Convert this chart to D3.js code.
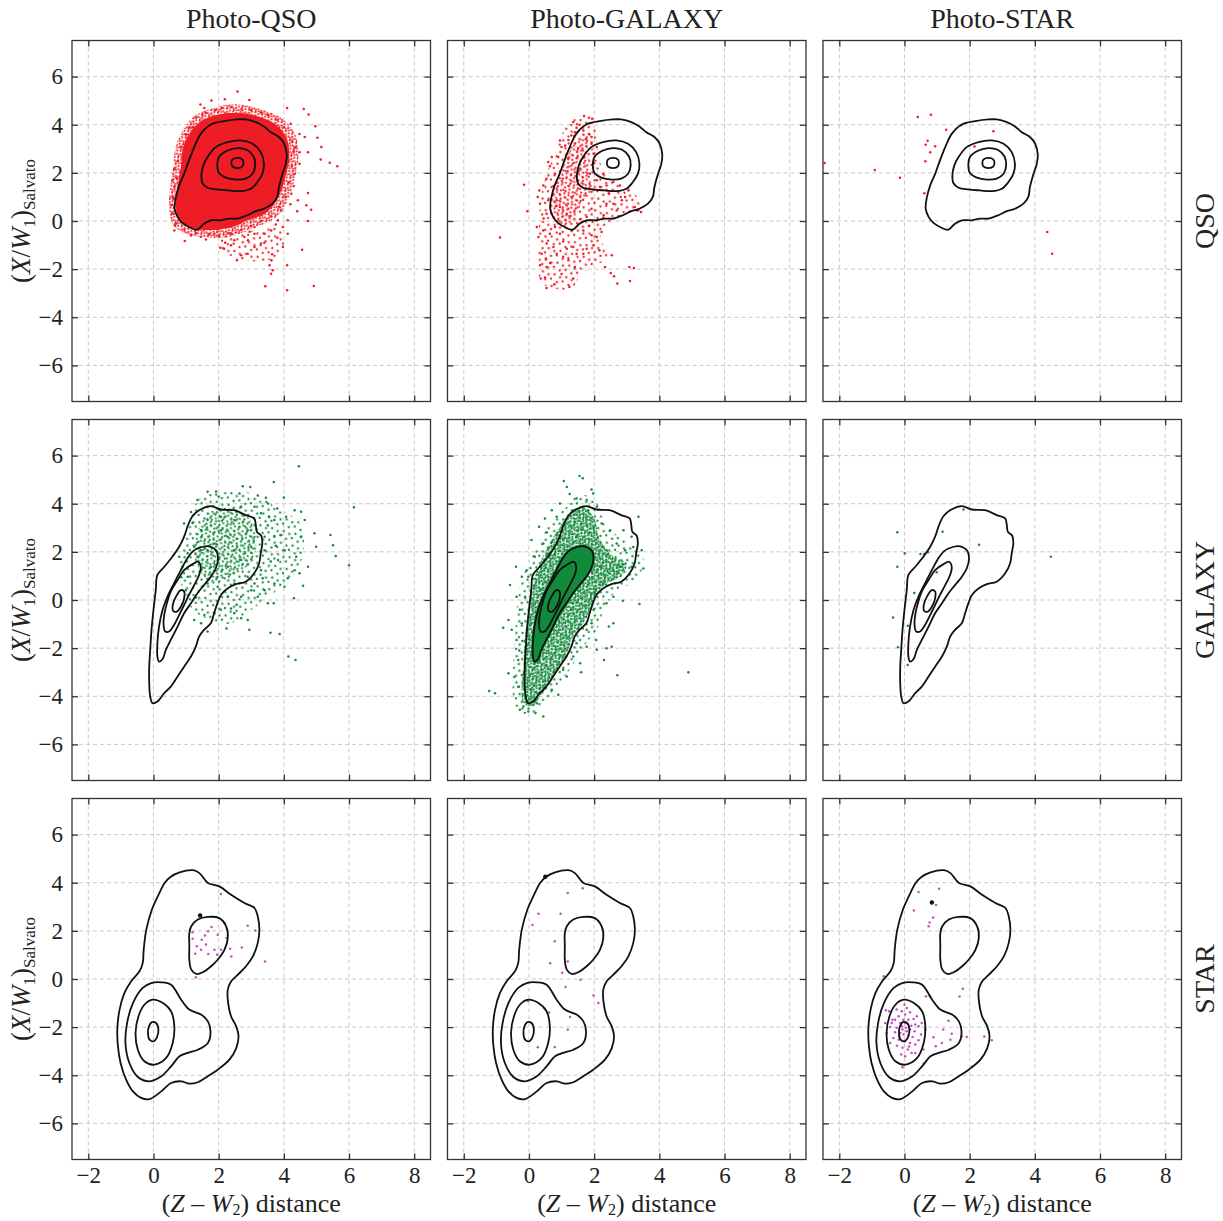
<!DOCTYPE html>
<html><head><meta charset="utf-8">
<script src="https://cdn.jsdelivr.net/npm/d3@7"></script>
<style>
body{margin:0;background:#fff}
svg{display:block}
text{font-family:"Liberation Serif","Times New Roman",serif;fill:#222}
</style>
</head><body><div id="chart"></div>
<script>
// ---------- labels & ticks ----------
const columnTitles = ["Photo-QSO", "Photo-GALAXY", "Photo-STAR"];
const rowTitles = ["QSO", "GALAXY", "STAR"];
const xTicks = [-2, 0, 2, 4, 6, 8];
const yTicks = [-6, -4, -2, 0, 2, 4, 6];
const xDomain = [-2.5, 8.5];
const yDomain = [-7.5, 7.5];

// ---------- density contours (same for every panel of a row) ----------
const qsoContour1 = [[1.76,4.01],[2.17,4.15],[2.58,4.22],[2.83,4.22],[3.14,4.11],[3.39,3.93],[3.60,3.69],[3.85,3.49],[4.01,3.21],[4.09,2.77],[4.06,2.38],[3.96,1.96],[3.85,1.41],[3.80,1.00],[3.65,0.72],[3.39,0.51],[3.14,0.41],[2.88,0.24],[2.58,0.10],[2.32,0.10],[2.07,0.03],[1.76,0.03],[1.55,-0.11],[1.35,-0.36],[1.15,-0.29],[0.89,-0.08],[0.74,0.17],[0.65,0.51],[0.69,1.00],[0.79,1.48],[0.94,1.96],[1.09,2.52],[1.25,3.07],[1.45,3.62]];
const qsoContour2 = [[1.66,2.66],[1.91,3.07],[2.27,3.28],[2.68,3.35],[3.04,3.21],[3.29,2.86],[3.39,2.38],[3.34,1.96],[3.19,1.62],[2.99,1.34],[2.68,1.24],[2.32,1.27],[1.96,1.31],[1.66,1.38],[1.50,1.58],[1.47,1.89],[1.53,2.31]];
const qsoContour3 = [[2.01,2.66],[2.27,2.93],[2.58,3.03],[2.86,2.96],[3.07,2.68],[3.12,2.31],[3.04,1.96],[2.83,1.76],[2.53,1.72],[2.22,1.80],[2.01,1.99],[1.96,2.31]];
const qsoContour4 = [[2.39,2.41],[2.42,2.55],[2.58,2.62],[2.73,2.55],[2.76,2.41],[2.73,2.27],[2.58,2.20],[2.42,2.27]];

const galContour1 = [[1.20,3.49],[1.40,3.73],[1.76,3.90],[2.07,3.76],[2.47,3.73],[2.83,3.53],[3.09,3.39],[3.14,3.11],[3.17,2.84],[3.31,2.66],[3.34,2.35],[3.29,1.94],[3.24,1.52],[3.09,1.11],[2.83,0.76],[2.53,0.66],[2.27,0.48],[2.07,0.21],[1.96,-0.14],[1.86,-0.55],[1.76,-0.97],[1.55,-1.24],[1.40,-1.52],[1.30,-1.94],[1.15,-2.35],[0.94,-2.77],[0.74,-3.18],[0.53,-3.60],[0.33,-3.87],[0.12,-4.22],[-0.03,-4.29],[-0.10,-4.01],[-0.13,-3.46],[-0.13,-2.77],[-0.10,-2.07],[-0.06,-1.24],[0.00,-0.41],[0.07,0.41],[0.12,1.04],[0.33,1.38],[0.58,1.80],[0.79,2.21],[0.94,2.63],[1.06,3.11]];
const galContour2 = [[1.35,2.14],[1.66,2.24],[1.91,2.07],[1.98,1.73],[1.91,1.31],[1.76,0.97],[1.55,0.62],[1.35,0.28],[1.15,-0.14],[0.94,-0.55],[0.74,-1.11],[0.53,-1.66],[0.38,-2.07],[0.28,-2.45],[0.17,-2.56],[0.12,-2.35],[0.12,-1.80],[0.17,-1.11],[0.28,-0.41],[0.43,0.14],[0.63,0.69],[0.84,1.24],[1.04,1.73],[1.20,2.01]];
const galContour3 = [[1.20,1.49],[1.37,1.59],[1.45,1.38],[1.40,1.04],[1.25,0.62],[1.09,0.21],[0.94,-0.21],[0.79,-0.62],[0.63,-1.04],[0.48,-1.31],[0.36,-1.31],[0.31,-1.04],[0.33,-0.62],[0.41,-0.14],[0.53,0.35],[0.74,0.83],[0.94,1.24]];
const galContour4 = [[0.84,0.41],[0.94,0.35],[0.94,0.07],[0.84,-0.28],[0.72,-0.48],[0.61,-0.46],[0.59,-0.21],[0.69,0.14]];

const starContourOuter = [[0.52,4.24],[0.80,4.43],[1.21,4.52],[1.41,4.40],[1.67,3.99],[2.02,3.85],[2.38,3.50],[2.79,3.16],[3.10,2.95],[3.20,2.60],[3.25,2.05],[3.20,1.50],[3.05,0.94],[2.84,0.53],[2.59,0.18],[2.38,-0.10],[2.28,-0.44],[2.28,-0.86],[2.38,-1.55],[2.54,-1.97],[2.61,-2.38],[2.54,-2.87],[2.33,-3.35],[1.97,-3.77],[1.67,-4.04],[1.36,-4.29],[1.10,-4.35],[0.85,-4.25],[0.54,-4.32],[0.24,-4.67],[-0.12,-4.99],[-0.38,-4.94],[-0.63,-4.67],[-0.84,-4.18],[-1.01,-3.49],[-1.09,-2.80],[-1.11,-2.11],[-1.04,-1.27],[-0.89,-0.58],[-0.69,-0.10],[-0.43,0.32],[-0.33,0.66],[-0.30,1.22],[-0.22,2.05],[-0.05,2.88],[0.18,3.57],[0.34,3.99]];
const starContourIsland = [[1.16,2.19],[1.36,2.47],[1.67,2.58],[2.02,2.53],[2.23,2.19],[2.28,1.70],[2.18,1.22],[1.97,0.80],[1.77,0.53],[1.51,0.28],[1.31,0.21],[1.16,0.39],[1.10,0.80],[1.10,1.36],[1.10,1.91]];
const starContour2 = [[0.24,-0.14],[0.54,-0.24],[0.85,-0.86],[1.10,-1.27],[1.46,-1.48],[1.67,-1.76],[1.75,-2.17],[1.67,-2.66],[1.36,-2.94],[1.05,-3.07],[0.80,-3.21],[0.54,-3.63],[0.24,-4.04],[-0.12,-4.25],[-0.48,-4.07],[-0.74,-3.49],[-0.86,-2.66],[-0.81,-1.83],[-0.63,-1.00],[-0.33,-0.37],[-0.07,-0.17]];
const starContour3 = [[-0.02,-0.86],[0.29,-1.00],[0.54,-1.34],[0.64,-1.97],[0.59,-2.66],[0.39,-3.28],[0.03,-3.56],[-0.28,-3.42],[-0.48,-2.94],[-0.55,-2.24],[-0.46,-1.55],[-0.28,-1.07]];
const starContour4 = [[-0.14,-1.97],[-0.05,-1.79],[0.08,-1.83],[0.15,-2.08],[0.11,-2.41],[0.01,-2.59],[-0.12,-2.52],[-0.17,-2.24]];

// ---------- outlines of the crowded parts of the scatter clouds ----------
const solidQsoPhotoQso = [[0.99,3.35],[1.35,4.04],[1.87,4.38],[2.48,4.50],[3.10,4.38],[3.71,4.04],[4.07,3.49],[4.17,2.66],[4.07,1.96],[3.92,1.27],[3.71,0.72],[3.41,0.30],[2.89,0.03],[2.48,-0.22],[1.97,-0.36],[1.46,-0.36],[1.05,-0.22],[0.79,0.03],[0.69,0.58],[0.72,1.27],[0.84,2.24],[0.89,2.93]];
const haloQsoPhotoQso = [[0.80,3.50],[1.25,4.35],[1.85,4.70],[2.50,4.85],[3.15,4.70],[3.85,4.35],[4.35,3.60],[4.45,2.70],[4.35,1.90],[4.20,1.10],[3.98,0.50],[3.60,0.00],[3.00,-0.30],[2.50,-0.60],[1.95,-0.70],[1.40,-0.65],[0.95,-0.50],[0.60,-0.15],[0.48,0.50],[0.50,1.30],[0.60,2.20],[0.66,2.95]];
const tailQsoPhotoQso = [[2.00,-0.60],[3.00,-0.40],[3.90,-0.30],[4.00,-1.00],[3.60,-1.60],[2.70,-1.60],[2.10,-1.20]];
const coreQsoPhotoGal = [[1.46,3.35],[1.77,3.62],[1.82,2.66],[1.87,1.69],[2.08,1.27],[1.77,1.07],[1.57,0.58],[1.36,0.03],[1.05,-0.25],[0.75,0.03],[0.64,0.58],[0.70,1.13],[0.85,1.69],[1.05,2.24],[1.26,2.93]];
const haloQsoPhotoGal = [[1.30,4.20],[2.00,4.00],[2.10,3.00],[2.40,1.80],[3.20,1.20],[3.50,0.40],[2.80,0.20],[2.20,-0.60],[2.40,-1.50],[1.60,-2.20],[1.30,-2.80],[0.40,-2.60],[0.30,-1.50],[0.30,-0.50],[0.35,0.80],[0.50,1.80],[0.80,2.80]];
const coreGalPhotoQso = [[1.30,2.60],[1.60,3.50],[2.00,3.80],[2.50,3.80],[2.90,3.45],[3.10,2.90],[3.15,2.20],[3.00,1.60],[2.60,1.10],[2.10,0.80],[1.70,0.80],[1.40,1.30],[1.25,1.90]];
const haloGalPhotoQso = [[1.00,2.60],[1.40,4.20],[2.20,4.50],[3.10,4.40],[3.80,3.80],[4.50,3.20],[4.60,2.00],[4.30,1.00],[3.60,0.20],[2.80,-0.60],[2.30,-1.00],[1.70,-0.80],[1.20,-0.40],[0.90,0.40],[0.80,1.50]];
const haloGalPhotoGal = [[1.10,3.80],[1.55,4.40],[2.10,4.00],[2.40,3.00],[2.95,2.50],[3.50,1.80],[3.30,0.80],[2.70,0.40],[2.30,-0.40],[2.10,-1.20],[1.70,-1.90],[1.30,-2.80],[0.80,-3.70],[0.40,-4.50],[-0.10,-4.75],[-0.45,-4.30],[-0.50,-3.20],[-0.45,-2.00],[-0.40,-0.80],[-0.30,0.40],[0.00,1.60],[0.40,2.60],[0.75,3.40]];
const coreGalPhotoGal = [[1.16,3.46],[1.57,3.87],[1.98,3.46],[2.18,2.49],[2.59,1.80],[3.00,1.52],[2.79,0.97],[2.38,0.69],[2.08,0.28],[1.87,-0.41],[1.67,-0.97],[1.36,-1.52],[1.16,-2.21],[0.95,-2.77],[0.64,-3.46],[0.34,-4.01],[0.08,-4.43],[-0.17,-4.29],[-0.23,-3.60],[-0.17,-2.63],[-0.12,-1.52],[-0.02,-0.41],[0.08,0.41],[0.29,1.38],[0.64,2.35],[0.95,3.04]];
const solidGalPhotoGal = [[1.35,2.20],[1.68,2.30],[1.95,2.10],[2.02,1.73],[1.95,1.31],[1.79,0.95],[1.58,0.58],[1.38,0.24],[1.18,-0.18],[0.97,-0.60],[0.77,-1.15],[0.56,-1.70],[0.40,-2.12],[0.29,-2.55],[0.15,-2.62],[0.08,-2.35],[0.08,-1.80],[0.13,-1.11],[0.24,-0.41],[0.39,0.14],[0.59,0.71],[0.80,1.27],[1.00,1.78],[1.18,2.07]];

// ---------- individual scatter points ----------
const ptsQsoPhotoQso = [[2.58,5.38],[2.19,5.06],[2.94,5.03],[1.78,5.01],[1.44,4.84],[1.56,4.70],[4.10,4.70],[4.61,4.65],[4.76,4.43],[4.21,4.04],[4.97,3.94],[4.48,3.62],[4.64,3.49],[5.03,3.46],[5.15,3.07],[4.48,2.86],[4.74,2.86],[5.13,2.56],[5.41,2.42],[5.64,2.28],[4.48,2.38],[4.33,1.96],[4.74,1.16],[4.23,1.13],[4.43,0.86],[4.69,0.65],[4.84,0.47],[4.41,0.41],[4.74,0.00],[4.12,0.03],[3.97,-0.25],[4.12,-0.53],[4.56,-1.19],[3.97,-1.08],[3.64,-1.38],[3.62,-1.63],[3.56,-1.84],[3.66,-2.05],[3.61,-2.19],[4.10,-1.84],[3.43,-2.71],[4.10,-2.88],[4.92,-2.70],[3.30,-0.94],[3.10,-1.08],[2.89,-1.36],[2.56,-1.63],[2.69,-1.42],[2.38,-1.01],[2.17,-1.15],[2.05,-1.11],[2.48,-0.80],[2.79,-0.66],[3.10,-0.53],[3.41,-0.53],[3.61,-0.39],[1.87,-0.53],[1.61,-0.77],[0.96,-0.83],[0.64,-0.39],[0.65,-0.18],[0.58,1.69],[0.62,0.90],[0.64,1.41],[0.89,2.66],[1.20,3.90],[2.38,-0.53],[3.10,-0.25],[3.82,0.03],[3.92,0.44],[1.10,3.90],[1.30,4.30],[1.60,4.50],[1.90,4.60],[2.10,4.70],[2.40,4.75],[2.70,4.65],[3.00,4.60],[3.30,4.50],[3.50,4.40],[3.80,4.20],[4.00,3.90],[4.25,3.30],[4.30,2.90],[4.25,2.30],[4.15,1.60],[4.05,1.00],[3.85,0.60],[3.60,0.20],[3.30,0.00],[3.00,-0.20],[2.70,-0.35],[2.30,-0.50],[2.00,-0.60],[1.70,-0.55],[1.30,-0.50],[0.95,-0.35],[0.70,-0.10],[0.60,0.30],[0.60,1.00],[0.70,1.80],[0.75,2.50],[0.85,3.10],[2.20,-0.90],[2.90,-0.80],[3.40,-0.90],[3.80,-0.70],[4.35,3.05],[4.30,1.45],[4.20,0.70],[3.75,-0.15],[2.95,-0.45],[1.45,-0.65],[1.15,-0.60],[0.55,0.65],[0.65,2.15],[1.00,3.60],[1.50,4.40]];
const ptsQsoPhotoGal = [[1.69,4.36],[1.84,4.29],[1.94,4.25],[1.36,4.11],[1.46,3.87],[1.41,3.69],[1.67,3.76],[1.84,3.62],[1.92,3.49],[1.21,3.37],[1.00,3.07],[1.11,3.14],[0.90,2.66],[0.59,2.45],[0.64,2.27],[0.80,1.96],[0.54,1.76],[0.32,1.27],[-0.15,1.51],[0.27,1.00],[-0.05,0.41],[0.59,0.86],[0.54,0.30],[0.24,-0.25],[0.29,-0.66],[-0.89,-0.69],[0.44,-0.39],[0.64,-0.53],[0.54,-0.94],[0.75,-1.08],[0.39,-1.36],[0.52,-1.56],[0.34,-1.84],[0.54,-1.91],[0.85,-1.36],[1.05,-1.49],[1.16,-1.15],[1.36,-1.08],[1.46,-1.36],[1.21,-1.63],[1.41,-1.91],[1.36,-2.39],[1.24,-2.74],[0.36,-2.39],[0.49,-2.35],[0.54,-2.78],[0.78,-2.63],[1.67,-1.36],[1.77,-1.15],[1.98,-1.01],[2.08,-0.66],[2.23,-0.46],[2.16,-1.22],[2.33,-1.91],[2.54,-1.42],[2.51,-2.16],[2.61,-2.30],[2.71,-2.60],[3.08,-1.91],[3.22,-1.95],[3.10,-2.49],[1.92,-0.59],[1.67,-0.39],[2.08,0.03],[2.29,0.24],[2.59,0.72],[2.85,0.86],[2.95,1.00],[3.05,1.27],[3.25,0.58],[3.44,0.37],[3.31,0.44],[2.79,1.48],[2.59,1.62],[2.38,1.48],[2.18,1.41],[2.08,1.69],[2.28,1.96],[1.87,1.96],[1.67,2.66],[1.98,2.79],[2.08,3.07],[1.92,3.21],[0.85,0.86],[0.95,0.58],[1.16,0.30],[1.31,-0.39],[0.95,-0.53],[0.80,-0.25],[1.77,0.17],[1.57,0.07],[1.92,0.51],[2.38,0.72],[2.69,0.44],[0.44,1.48],[0.34,0.72],[0.70,2.66],[0.95,3.35],[1.51,3.00],[1.51,2.03],[1.30,3.55],[1.55,4.00],[1.75,3.40],[0.75,1.45],[0.45,0.10],[1.05,-0.85],[0.65,-1.75],[1.00,-2.20],[1.85,-0.20],[2.45,1.15],[2.00,2.40],[1.20,2.60]];
const ptsQsoPhotoStar = [[0.41,4.32],[0.81,4.41],[1.28,3.79],[1.74,3.98],[2.73,3.73],[0.71,3.33],[0.65,3.17],[0.94,3.11],[0.79,2.86],[2.15,3.10],[0.64,2.48],[-2.45,2.41],[-0.91,2.12],[-0.14,1.80],[0.61,1.15],[4.38,-0.46],[4.53,-1.36]];

const ptsGalPhotoQso = [[4.46,5.56],[3.69,4.90],[1.66,4.50],[1.92,4.51],[2.74,4.73],[2.97,4.70],[3.20,4.34],[2.64,4.43],[4.00,4.26],[3.51,4.01],[3.80,3.80],[4.33,3.73],[4.53,3.67],[6.15,3.85],[4.64,3.32],[4.07,3.46],[3.71,3.32],[3.51,3.11],[3.41,2.63],[3.71,2.63],[3.92,2.70],[4.53,2.63],[4.94,2.77],[5.43,2.70],[4.99,2.21],[5.51,2.28],[5.59,1.83],[4.38,1.80],[4.02,2.07],[3.82,1.66],[4.74,1.38],[4.33,1.24],[4.48,1.11],[6.00,1.44],[4.12,0.90],[4.02,0.55],[4.59,0.59],[4.31,0.07],[3.71,0.69],[3.41,0.41],[3.20,0.14],[3.51,-0.14],[3.69,-0.14],[3.87,-1.41],[3.59,-1.36],[4.14,-2.35],[4.36,-2.49],[2.94,-1.24],[2.89,-0.83],[2.69,-0.76],[2.48,-0.55],[2.24,-1.18],[2.38,-0.35],[2.07,-0.41],[1.87,-0.55],[1.66,-1.31],[1.56,-0.62],[1.46,-0.97],[1.25,-0.83],[0.99,0.41],[1.05,0.97],[0.89,1.38],[0.79,1.80],[1.05,1.94],[0.94,3.18],[1.15,3.66],[1.35,4.15],[2.28,3.73],[2.69,3.87],[3.10,3.87],[3.30,3.60],[3.41,2.07],[3.30,1.24],[2.89,0.97],[2.48,0.69],[2.28,0.14],[2.69,0.14],[3.10,0.69],[1.97,0.55],[1.66,0.69],[1.46,1.24],[1.35,1.80],[1.25,2.21],[1.46,2.90],[1.66,3.32],[2.07,3.46],[2.48,3.32],[2.89,2.90],[3.00,2.21],[2.69,1.66],[2.28,1.38],[1.97,1.66],[1.87,2.35],[2.28,2.63],[2.48,2.07],[2.07,2.90],[1.66,2.07],[1.76,1.38],[1.46,2.07],[3.55,3.45],[3.60,1.60],[3.00,0.40],[2.55,-0.20],[1.30,0.10],[0.85,0.95],[1.20,3.20],[2.00,4.30],[3.45,4.25],[3.75,2.25],[3.35,0.90]];
const ptsGalPhotoGal = [[1.55,5.15],[1.65,5.06],[1.07,4.94],[1.92,4.59],[1.97,4.43],[1.16,4.70],[1.46,4.22],[1.77,4.15],[3.36,3.46],[2.90,2.90],[3.15,2.63],[3.46,2.07],[3.51,1.31],[3.15,1.38],[3.39,-0.17],[2.88,-0.03],[2.59,0.14],[2.38,-0.14],[2.59,-0.97],[2.54,-1.94],[2.38,-2.01],[2.06,-1.66],[2.08,-2.07],[1.77,-1.94],[2.30,-2.49],[2.71,-3.13],[4.89,-3.00],[1.57,-2.63],[1.16,-3.18],[0.90,-3.94],[0.44,-4.84],[-0.02,-4.63],[-0.28,-4.56],[-1.22,-3.78],[-1.04,-3.87],[-0.63,-3.04],[-0.33,-2.49],[-0.38,-1.66],[-0.53,-1.24],[-0.79,-1.15],[-0.63,-0.83],[-0.28,-0.41],[-0.38,0.14],[-0.58,0.62],[-0.22,0.97],[-0.40,1.38],[-0.07,1.24],[0.08,2.49],[0.31,3.04],[0.49,3.39],[0.70,3.73],[0.95,4.01],[2.08,3.87],[2.49,2.90],[2.69,2.35],[2.95,2.07],[2.59,1.24],[2.28,0.69],[2.03,0.28],[1.92,-0.97],[1.77,-1.24],[1.46,-1.80],[1.36,-2.35],[1.05,-2.90],[0.70,-3.73],[0.24,-4.29],[-0.17,-4.43],[-0.33,-3.60],[-0.30,-2.10],[-0.22,-0.97],[-0.12,0.14],[-0.02,0.97],[0.18,1.80],[0.44,2.35],[0.85,3.46],[1.36,3.73],[1.82,3.73],[2.23,3.18],[2.38,2.07],[2.79,1.38],[2.18,1.38],[1.98,-0.41],[1.25,4.40],[0.55,2.80],[3.20,2.20],[2.45,-1.10],[1.60,-3.00],[0.20,-4.70],[-0.45,-3.20],[-0.20,-1.70]];
const ptsGalPhotoStar = [[1.81,3.76],[-0.22,2.81],[1.17,2.84],[2.29,2.30],[4.49,1.80],[0.01,1.94],[-0.22,1.38],[0.49,1.91],[0.61,1.91],[0.72,1.98],[0.99,1.15],[0.30,0.29],[-0.35,-0.73],[0.10,-1.07],[-0.20,-1.96],[0.10,-2.70]];

const ptsStarPhotoQso = [[2.07,3.53],[3.07,2.99],[2.19,2.32],[2.89,2.21],[3.12,2.02],[1.20,1.94],[1.78,2.16],[1.68,1.98],[1.97,1.84],[1.58,1.81],[1.48,1.63],[2.24,1.70],[1.20,1.67],[1.33,1.36],[1.61,1.43],[1.46,1.22],[1.87,1.22],[2.07,1.22],[2.35,1.26],[2.71,1.31],[1.28,1.05],[1.68,1.04],[1.95,1.01],[2.39,0.94],[3.42,0.73],[1.30,0.07]];
const ptsStarPhotoGal = [[1.65,3.77],[1.19,3.57],[0.29,2.71],[0.97,2.71],[0.11,2.24],[0.79,1.57],[1.19,0.73],[0.65,0.65],[1.02,0.26],[1.58,-0.03],[1.12,-0.33],[1.98,-0.69],[2.13,-1.00],[-0.03,-0.91],[0.62,-1.39],[1.26,-1.58],[1.19,-2.11],[0.27,-2.84],[0.79,-2.83]];
const ptsStarPhotoStar = [[0.43,3.61],[1.06,3.75],[0.97,3.07],[0.29,2.85],[0.88,2.56],[0.77,2.35],[0.74,2.19],[-0.64,0.11],[1.79,-0.40],[1.69,-0.73],[0.66,-0.72],[0.78,-0.72],[-0.57,-1.30],[-0.47,-1.34],[1.35,-1.73],[1.19,-2.10],[1.45,-2.28],[1.41,-2.52],[0.89,-2.42],[1.15,-2.66],[0.96,-2.79],[1.76,-2.38],[1.91,-2.41],[2.45,-2.39],[2.68,-2.54],[2.07,-3.65],[0.59,-3.51],[-0.06,-3.67],[0.58,-2.93],[0.33,-3.07],[0.00,-1.07],[0.07,-1.20],[-0.08,-1.34],[0.17,-1.38],[-0.18,-1.55],[-0.29,-1.69],[-0.03,-1.69],[0.12,-1.69],[0.28,-1.66],[-0.39,-1.83],[-0.13,-1.83],[0.33,-1.89],[0.43,-1.96],[-0.44,-1.99],[-0.24,-2.03],[-0.08,-1.96],[0.04,-2.03],[0.17,-2.10],[0.31,-2.17],[-0.29,-2.21],[-0.13,-2.24],[-0.03,-2.31],[0.12,-2.35],[0.25,-2.41],[0.51,-2.31],[-0.34,-2.45],[-0.18,-2.52],[0.00,-2.59],[0.17,-2.66],[0.33,-2.72],[-0.23,-2.77],[-0.06,-2.86],[0.10,-2.93],[0.22,-3.07],[-0.10,-3.14],[0.02,-3.21],[-0.44,-2.66],[-0.54,-2.24],[-0.59,-1.83],[0.53,-1.83],[0.63,-2.10],[0.43,-2.54],[-0.37,-1.69],[0.02,-1.83],[-0.06,-2.10],[0.07,-2.17],[0.21,-1.94],[-0.16,-2.38],[0.14,-2.80],[0.38,-1.55],[0.02,-1.48],[-0.24,-1.27]];

const blackPtsStarPhotoQso = [[1.43,2.64]];
const blackPtsStarPhotoGal = [[0.50,4.25]];
const blackPtsStarPhotoStar = [[0.84,3.18]];

// ---------- assembly ----------
const colors = {red: "#ee1c24", green: "#128a3b", magenta: "#c84ec0"};
const contoursByRow = [
  [qsoContour1, qsoContour2, qsoContour3, qsoContour4],
  [galContour1, galContour2, galContour3, galContour4],
  [starContourOuter, starContourIsland, starContour2, starContour3, starContour4]
];
const panels = [
  {r:0,c:0,color:"red",areas:[[tailQsoPhotoQso,"sparse"],[haloQsoPhotoQso,"dense"],[solidQsoPhotoQso,"solid"]],pts:ptsQsoPhotoQso,black:[]},
  {r:0,c:1,color:"red",areas:[[haloQsoPhotoGal,"sparse"],[coreQsoPhotoGal,"medium"]],pts:ptsQsoPhotoGal,black:[]},
  {r:0,c:2,color:"red",areas:[],pts:ptsQsoPhotoStar,black:[]},
  {r:1,c:0,color:"green",areas:[[haloGalPhotoQso,"sparse"],[coreGalPhotoQso,"medium"]],pts:ptsGalPhotoQso,black:[]},
  {r:1,c:1,color:"green",areas:[[haloGalPhotoGal,"sparse"],[coreGalPhotoGal,"dense"],[coreGalPhotoGal,"medium"],[solidGalPhotoGal,"solid"]],pts:ptsGalPhotoGal,black:[]},
  {r:1,c:2,color:"green",areas:[],pts:ptsGalPhotoStar,black:[]},
  {r:2,c:0,color:"magenta",areas:[],pts:ptsStarPhotoQso,black:blackPtsStarPhotoQso},
  {r:2,c:1,color:"magenta",areas:[],pts:ptsStarPhotoGal,black:blackPtsStarPhotoGal},
  {r:2,c:2,color:"magenta",areas:[],pts:ptsStarPhotoStar,black:blackPtsStarPhotoStar}
];

const W = 1223, H = 1221;
const lefts = [72, 447.5, 823], tops = [40.5, 419.5, 798.5];
const pw = 358.5, ph = 361;

const svg = d3.select("#chart").append("svg").attr("width", W).attr("height", H)
  .style("background", "#fff");

const x = d3.scaleLinear().domain(xDomain).range([0, pw]);
const y = d3.scaleLinear().domain(yDomain).range([ph, 0]);
const closedLine = d3.line().x(d => x(d[0])).y(d => y(d[1])).curve(d3.curveCatmullRomClosed.alpha(0.5));
const fmt = d => d < 0 ? "\u2212" + Math.abs(d) : String(d);

const defs = svg.append("defs");
defs.append("clipPath").attr("id", "clip").append("rect").attr("width", pw).attr("height", ph);

// dot-texture patterns that imitate crowded scatter
const patternSpecs = {
  dense:  {size: 7,  rot: 21, dots: [[1,1],[4.5,1.8],[2.3,4.2],[5.6,5.1],[0.4,6.0],[3.6,6.6]]},
  medium: {size: 9,  rot: 33, dots: [[1.2,1.5],[5.8,0.8],[3.4,4.6],[7.6,5.2],[1.0,7.9]]},
  sparse: {size: 12, rot: 14, dots: [[2,2],[8.5,4],[4.5,9],[10.5,10.5]]}
};
Object.entries(colors).forEach(([cname, col]) => {
  Object.entries(patternSpecs).forEach(([pname, spec]) => {
    const pat = defs.append("pattern").attr("id", `pat-${cname}-${pname}`)
      .attr("patternUnits", "userSpaceOnUse").attr("width", spec.size).attr("height", spec.size)
      .attr("patternTransform", `rotate(${spec.rot})`);
    pat.selectAll("circle").data(spec.dots).join("circle")
      .attr("cx", d => d[0]).attr("cy", d => d[1]).attr("r", 1.15).attr("fill", col);
  });
});

panels.forEach(p => {
  const g = svg.append("g").attr("transform", `translate(${lefts[p.c]},${tops[p.r]})`);
  // grid
  g.append("g").selectAll("line").data(xTicks).join("line")
    .attr("x1", d => x(d)).attr("x2", d => x(d)).attr("y1", 0).attr("y2", ph)
    .attr("stroke", "#c9c9c9").attr("stroke-width", 1).attr("stroke-dasharray", "4,3");
  g.append("g").selectAll("line").data(yTicks).join("line")
    .attr("y1", d => y(d)).attr("y2", d => y(d)).attr("x1", 0).attr("x2", pw)
    .attr("stroke", "#c9c9c9").attr("stroke-width", 1).attr("stroke-dasharray", "4,3");

  const plot = g.append("g").attr("clip-path", "url(#clip)");
  p.areas.forEach(([poly, kind]) => {
    plot.append("path").attr("d", closedLine(poly))
      .attr("fill", kind === "solid" ? colors[p.color] : `url(#pat-${p.color}-${kind})`);
  });
  plot.append("g").selectAll("circle").data(p.pts).join("circle")
    .attr("cx", d => x(d[0])).attr("cy", d => y(d[1])).attr("r", 1.25).attr("fill", colors[p.color]);
  contoursByRow[p.r].forEach(cn => {
    plot.append("path").attr("d", closedLine(cn)).attr("fill", "none")
      .attr("stroke", "#111").attr("stroke-width", 1.8);
  });
  plot.append("g").selectAll("circle").data(p.black).join("circle")
    .attr("cx", d => x(d[0])).attr("cy", d => y(d[1])).attr("r", 2.2).attr("fill", "#111");

  // axes with inward ticks on all sides
  const styleAxis = sel => {
    sel.select(".domain").remove();
    sel.selectAll(".tick line").attr("stroke", "#333").attr("stroke-width", 1.3);
    sel.selectAll(".tick text").style("font-family", '"Liberation Serif", serif').style("font-size", "23px").attr("fill", "#222");
  };
  g.append("g").attr("transform", `translate(0,${ph})`)
    .call(d3.axisBottom(x).tickValues(xTicks).tickSizeInner(-6).tickSizeOuter(0).tickPadding(7)
      .tickFormat(p.r === 2 ? fmt : () => ""))
    .call(styleAxis);
  g.append("g")
    .call(d3.axisTop(x).tickValues(xTicks).tickSizeInner(-6).tickSizeOuter(0).tickFormat(() => ""))
    .call(styleAxis);
  g.append("g")
    .call(d3.axisLeft(y).tickValues(yTicks).tickSizeInner(-6).tickSizeOuter(0).tickPadding(9)
      .tickFormat(p.c === 0 ? fmt : () => ""))
    .call(styleAxis);
  g.append("g").attr("transform", `translate(${pw},0)`)
    .call(d3.axisRight(y).tickValues(yTicks).tickSizeInner(-6).tickSizeOuter(0).tickFormat(() => ""))
    .call(styleAxis);
  g.append("rect").attr("width", pw).attr("height", ph).attr("fill", "none")
    .attr("stroke", "#333").attr("stroke-width", 1.3);
});

// column titles
columnTitles.forEach((t, c) => {
  svg.append("text").attr("x", lefts[c] + pw / 2).attr("y", 28).attr("text-anchor", "middle")
    .style("font-size", "28px").text(t);
});
// row titles (right side)
rowTitles.forEach((t, r) => {
  svg.append("text").attr("transform", `translate(1214,${tops[r] + ph / 2}) rotate(-90)`)
    .attr("text-anchor", "middle").style("font-size", "28px").text(t);
});
// y-axis labels
tops.forEach(tp => {
  const t = svg.append("text").attr("transform", `translate(30,${tp + ph / 2}) rotate(-90)`)
    .attr("text-anchor", "middle").style("font-size", "27px");
  t.append("tspan").text("(");
  t.append("tspan").attr("font-style", "italic").text("X");
  t.append("tspan").text("/");
  t.append("tspan").attr("font-style", "italic").text("W");
  t.append("tspan").attr("dy", 5).style("font-size", "17px").text("1");
  t.append("tspan").attr("dy", -5).text(")");
  t.append("tspan").attr("dy", 5).style("font-size", "17px").text("Salvato");
});
// x-axis labels
lefts.forEach(lf => {
  const t = svg.append("text").attr("x", lf + pw / 2).attr("y", 1212)
    .attr("text-anchor", "middle").style("font-size", "26px");
  t.append("tspan").text("(");
  t.append("tspan").attr("font-style", "italic").text("Z");
  t.append("tspan").text(" \u2013 ");
  t.append("tspan").attr("font-style", "italic").text("W");
  t.append("tspan").attr("dy", 3).style("font-size", "16px").text("2");
  t.append("tspan").attr("dy", -3).text(") distance");
});
</script></body></html>
